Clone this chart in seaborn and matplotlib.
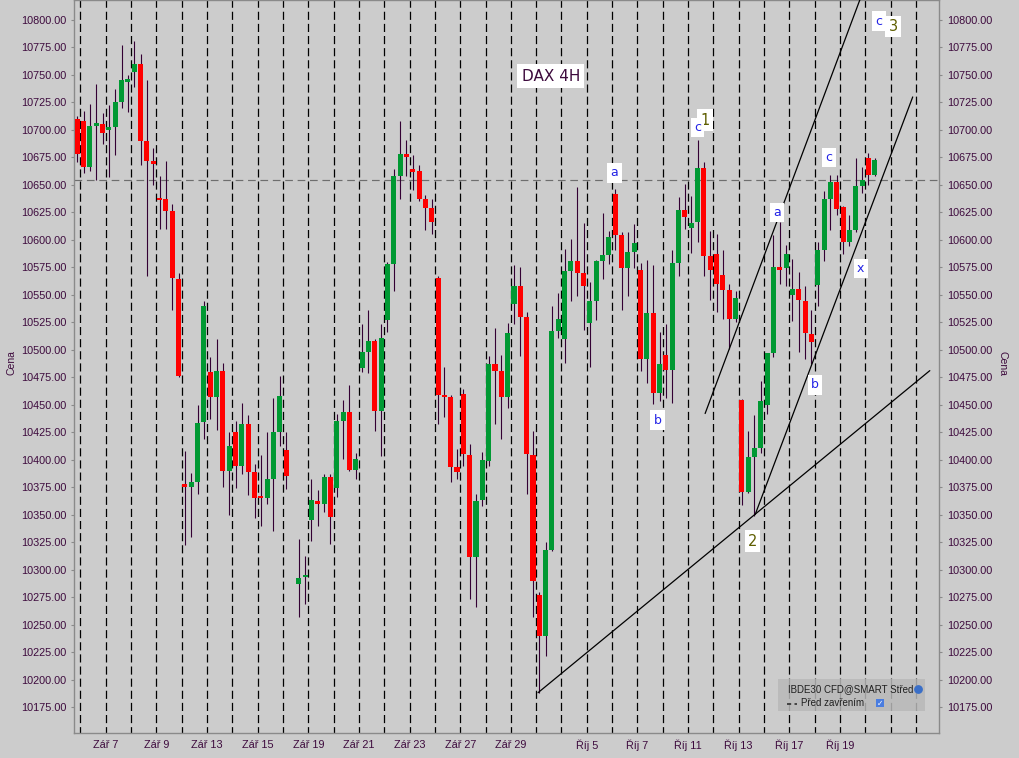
import numpy as np
import pandas as pd
import seaborn as sns
import matplotlib.pyplot as plt
from matplotlib.patches import Rectangle

# 4H candles (NaN = bar not drawn)
opens = [10710, 10708, 10666, 10704, 10705, 10700, 10703, 10725, 10744, 10753,
         10760, 10690, 10672, 10637, 10637, 10626, 10564, 10378, 10375, 10380,
         10434, 10480, 10457, 10481, 10390, 10425, 10394, 10432, 10389, 10367,
         10365, 10382, 10425, 10409, np.nan, 10287, 10293, 10345, 10362, 10360,
         10384, 10374, 10435, 10443, 10391, 10483, 10498, 10508, 10444, 10527,
         10578, 10658, 10678, 10664, 10663, 10637, 10629, 10565, 10459, 10457,
         10393, 10460, 10404, 10311, 10363, 10399, 10487, 10481, 10457, 10542,
         10558, 10530, 10404, 10277, 10240, 10318, 10517, 10510, 10572, 10581,
         10570, 10524, 10544, 10581, 10586, 10642, 10604, 10574, 10589, 10573,
         10492, 10533, 10461, 10495, 10482, 10579, 10627, 10611, 10616, 10665,
         10585, 10587, 10568, 10554, 10528, 10454, 10371, 10402, 10411, 10450,
         10497, 10575, 10574, 10550, 10555, 10544, 10514, 10559, 10591, 10637,
         10653, 10630, 10598, 10609, 10649, 10674, 10659]
highs = [10713, 10717, 10724, 10742, 10715, 10723, 10737, 10777, 10750, 10781,
         10769, 10745, 10684, 10658, 10672, 10633, 10570, 10408, 10388, 10450,
         10544, 10493, 10510, 10488, 10425, 10435, 10452, 10441, 10396, 10404,
         10425, 10456, 10476, 10425, np.nan, 10328, 10312, 10382, 10372, 10387,
         10387, 10442, 10454, 10468, 10406, 10523, 10536, 10510, 10523, 10580,
         10664, 10708, 10691, 10677, 10668, 10641, 10637, 10567, 10484, 10459,
         10410, 10464, 10414, 10369, 10407, 10494, 10520, 10495, 10524, 10577,
         10575, 10534, 10426, 10280, 10325, 10540, 10552, 10592, 10601, 10648,
         10615, 10562, 10582, 10624, 10608, 10646, 10607, 10607, 10614, 10579,
         10582, 10577, 10516, 10523, 10591, 10639, 10651, 10640, 10691, 10671,
         10608, 10605, 10591, 10560, 10553, 10455, 10426, 10441, 10472, 10497,
         10604, 10616, 10595, 10583, 10571, 10558, 10536, 10598, 10644, 10659,
         10659, 10631, 10623, 10674, 10666, 10679, 10674]
lows = [10671, 10661, 10663, 10654, 10687, 10657, 10677, 10720, 10716, 10739,
        10668, 10567, 10650, 10610, 10610, 10536, 10475, 10322, 10330, 10369,
        10419, 10437, 10427, 10375, 10350, 10374, 10387, 10368, 10347, 10340,
        10360, 10335, 10412, 10373, np.nan, 10257, 10269, 10326, 10340, 10352,
        10323, 10366, 10401, 10390, 10382, 10480, 10479, 10426, 10403, 10516,
        10553, 10637, 10658, 10645, 10635, 10609, 10605, 10432, 10439, 10380,
        10382, 10394, 10273, 10266, 10358, 10394, 10432, 10419, 10447, 10523,
        10494, 10369, 10257, 10188, 10221, 10317, 10511, 10488, 10544, 10549,
        10518, 10484, 10527, 10564, 10578, 10591, 10536, 10549, 10574, 10481,
        10470, 10451, 10453, 10456, 10452, 10567, 10610, 10588, 10598, 10567,
        10545, 10534, 10528, 10501, 10525, 10359, 10370, 10349, 10406, 10442,
        10493, 10560, 10558, 10526, 10498, 10492, 10487, 10540, 10581, 10609,
        10623, 10587, 10594, 10607, 10643, 10650, 10658]
closes = [10678, 10666, 10704, 10706, 10697, 10703, 10725, 10745, 10746, 10760,
          10690, 10672, 10669, 10636, 10626, 10565, 10476, 10375, 10380, 10433,
          10540, 10457, 10481, 10390, 10412, 10394, 10432, 10389, 10365, 10365,
          10382, 10425, 10458, 10385, np.nan, 10292, 10295, 10363, 10360, 10384,
          10348, 10435, 10443, 10391, 10401, 10498, 10508, 10444, 10511, 10578,
          10658, 10678, 10675, 10662, 10637, 10629, 10616, 10459, 10457, 10393,
          10389, 10405, 10311, 10362, 10400, 10487, 10481, 10457, 10515, 10558,
          10530, 10405, 10290, 10240, 10318, 10517, 10528, 10572, 10581, 10570,
          10558, 10544, 10581, 10586, 10603, 10604, 10574, 10589, 10597, 10492,
          10533, 10461, 10487, 10482, 10579, 10627, 10621, 10615, 10665, 10585,
          10573, 10560, 10554, 10528, 10547, 10371, 10402, 10411, 10453, 10497,
          10575, 10573, 10587, 10555, 10545, 10515, 10507, 10591, 10637, 10653,
          10628, 10598, 10609, 10649, 10654, 10659, 10673]

prev_close = 10654

# day separators every 4 bars, labels on some of them
n_days = 34
label_days = [1, 3, 5, 7, 9, 11, 13, 15, 17, 20, 22, 24, 26, 28, 30]
label_texts = ["Zář 7", "Zář 9", "Zář 13", "Zář 15", "Zář 19", "Zář 21", "Zář 23",
               "Zář 27", "Zář 29", "Říj 5", "Říj 7", "Říj 11", "Říj 13", "Říj 17", "Říj 19"]

# hand drawn trend lines (bar index, price)
trend_x = [[72.8, 134.7], [99.2, 124.6], [107.1, 132.0]]
trend_y = [[10188, 10481], [10442, 10833], [10350, 10730]]

# wave labels (bar index, price)
wave_text = ["a", "b", "c", "a", "c", "x", "b", "c"]
wave_x = [84.9, 91.7, 98.0, 110.5, 118.75, 123.8, 116.6, 126.7]
wave_y = [10661, 10436, 10702, 10625, 10675, 10574, 10468, 10799]
count_text = ["1", "2", "3"]
count_x = [99.2, 106.7, 128.9]
count_y = [10709, 10326, 10794]

BG = "#cccccc"
TXT = "#3d0a3d"
GREEN = "#009933"
RED = "#ff0000"
WICK = "#330033"

sns.set_theme(style="white", rc={"figure.facecolor": BG, "axes.facecolor": BG,
                                 "axes.edgecolor": "#8a8a8a"})
plt.rcParams["font.family"] = ["Liberation Sans", "DejaVu Sans"]

df = pd.DataFrame({"open": opens, "high": highs, "low": lows, "close": closes})
df["idx"] = np.arange(len(df))
df = df.dropna()
up = df["close"] >= df["open"]
body_lo = np.minimum(df["open"], df["close"])
body_h = np.maximum((df["close"] - df["open"]).abs(), 1.8)

fig = plt.figure(figsize=(10.2, 7.58), dpi=100)
ax = fig.add_axes([74 / 1020, 1 - 732.7 / 758, 865.3 / 1020, 732.7 / 758])

# day separators and previous close
sep = np.arange(n_days) * 4 + 0.5
ax.vlines(sep, 10100, 10900, color="black", lw=0.9, linestyles=(0, (6.5, 3.2)), zorder=2)
ax.axhline(prev_close, color="#6e6e6e", lw=0.85, ls=(0, (6.5, 4)), zorder=2)

# candles
ax.vlines(df["idx"], df["low"], df["high"], color=WICK, lw=0.8, zorder=3)
ax.bar(df["idx"], body_h, bottom=body_lo, width=0.8,
       color=np.where(up, GREEN, RED), linewidth=0, zorder=4)

for tx, ty in zip(trend_x, trend_y):
    ax.plot(tx, ty, color="black", lw=0.9, zorder=5)

ax.set_xlim(-0.52, 136.2)
ax.set_ylim(10151.6, 10818.2)

yt = np.arange(10175, 10801, 25)
ax.set_yticks(yt)
ax.set_yticklabels([f"{v:.2f}" for v in yt])
ax.tick_params(axis="y", left=True, right=True, labelleft=True, labelright=True,
               length=2, width=0.8, color="#8a8a8a", pad=3.5, labelsize=7.8,
               labelcolor=TXT)
ax.set_xticks(sep[label_days])
ax.set_xticklabels(label_texts)
ax.tick_params(axis="x", bottom=True, length=0, pad=5, labelsize=7.8, labelcolor=TXT)
ax.set_xlabel("")
ax.set_ylabel("")
for s in ax.spines.values():
    s.set_linewidth(1.0)
    s.set_color("#8a8a8a")

fig.text(11.7 / 1020, 1 - 363 / 758, "Cena", rotation=90, ha="center", va="center",
         fontsize=7.5, color=TXT)
fig.text(1003 / 1020, 1 - 363 / 758, "Cena", rotation=270, ha="center", va="center",
         fontsize=7.5, color=TXT)

# chart title box
ax.text(74.8, 10749, "DAX 4H", ha="center", va="center", fontsize=11, color=TXT,
        family="DejaVu Sans", zorder=7,
        bbox=dict(boxstyle="square,pad=0.3", fc="white", ec="none"))

for t, x, y in zip(count_text, count_x, count_y):
    ax.text(x, y, t, ha="center", va="center", fontsize=10.5, color="#5e5e00",
            family="DejaVu Sans", zorder=7,
            bbox=dict(boxstyle="square,pad=0.22", fc="white", ec="none"))
for t, x, y in zip(wave_text, wave_x, wave_y):
    ax.text(x, y, t, ha="center", va="center", fontsize=9, color="#2424e6",
            family="DejaVu Sans", zorder=8,
            bbox=dict(boxstyle="square,pad=0.26", fc="white", ec="none"))

# instrument legend box
ax.add_patch(Rectangle((0.8136, 0.0296), 0.1699, 0.0437, transform=ax.transAxes,
                       fc="#b8b8b8", ec="none", alpha=0.85, zorder=6))
ax.text(0.8252, 0.0596, "IBDE30 CFD@SMART Střed", transform=ax.transAxes,
        ha="left", va="center", fontsize=7, color="#202020", zorder=7)
ax.plot([0.8241, 0.8355], [0.0398, 0.0398], transform=ax.transAxes, color="#303030",
        lw=1.2, ls=(0, (2.5, 2)), zorder=7)
ax.text(0.8398, 0.0405, "Před zavřením", transform=ax.transAxes,
        ha="left", va="center", fontsize=7, color="#202020", zorder=7)
ax.add_patch(Rectangle((0.9265, 0.0345), 0.0092, 0.0115, transform=ax.transAxes,
                       fc="#4a7de0", ec="none", zorder=7))
ax.text(0.9311, 0.0402, "✓", transform=ax.transAxes, ha="center", va="center",
        fontsize=5.5, color="white", family="DejaVu Sans", zorder=8)
ax.scatter([0.9755], [0.0596], s=28, color="#3a6fc8", transform=ax.transAxes, zorder=7)

fig.savefig("out.png", dpi=100, facecolor=BG)
